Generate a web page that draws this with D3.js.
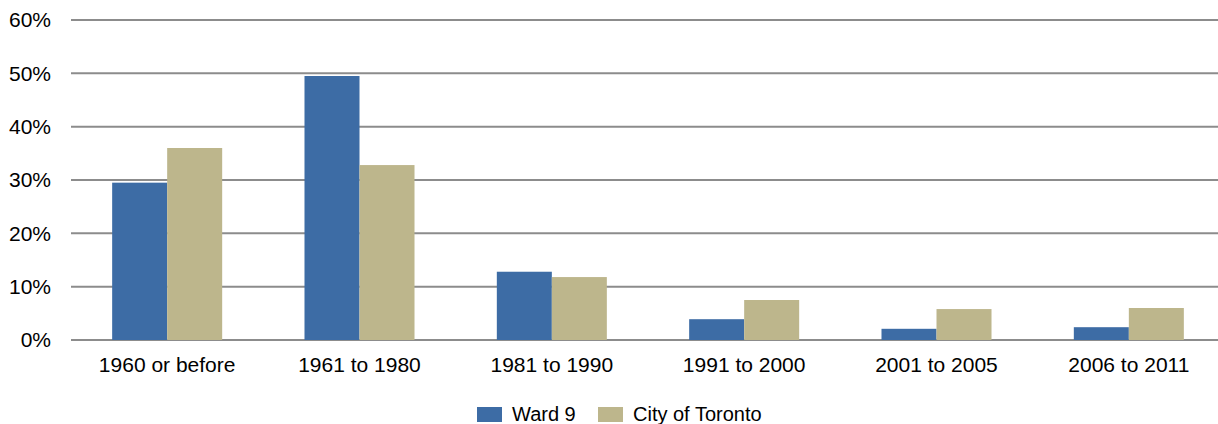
<!DOCTYPE html>
<html>
<head>
<meta charset="utf-8">
<script src="https://cdn.jsdelivr.net/npm/d3@7"></script>
<style>
  html, body { margin: 0; padding: 0; background: #fff; overflow: hidden; }
  svg { display: block; }
</style>
</head>
<body>
<div id="chart"></div>
<script>
(function () {
"use strict";

// Period of construction, share of dwellings
var categories = ["1960 or before", "1961 to 1980", "1981 to 1990",
                  "1991 to 2000", "2001 to 2005", "2006 to 2011"];
var seriesNames = ["Ward 9", "City of Toronto"];
var ward9 = [29.5, 49.5, 12.8, 3.9, 2.1, 2.4];
var toronto = [36.0, 32.8, 11.8, 7.5, 5.8, 6.0];
var yTicks = [0, 10, 20, 30, 40, 50, 60];

var colors = ["#3d6ca5", "#bdb68c"];

var fullWidth = 1218,
    fullHeight = 424;

// plot area runs a little past the right edge of the picture
var margins = { left: 71, right: -7, top: 20, bottom: 84 };

var width = fullWidth - margins.left - margins.right,
    height = fullHeight - margins.top - margins.bottom;

var fontFamily = "'Liberation Sans', Arial, sans-serif";

var svg = d3.select("#chart").append("svg")
  .attr("width", fullWidth)
  .attr("height", fullHeight)
  .attr("viewBox", "0 0 " + fullWidth + " " + fullHeight);

var g = svg.append("g")
  .attr("transform", "translate(" + margins.left + "," + margins.top + ")");

var xScale = d3.scaleBand()
  .domain(categories)
  .range([0, width])
  .paddingInner(0.428)
  .paddingOuter(0.214);

var xSub = d3.scaleBand()
  .domain(seriesNames)
  .range([0, xScale.bandwidth()]);

var yScale = d3.scaleLinear()
  .domain([0, 60])
  .range([height, 0]);

// gridlines
g.append("g")
  .selectAll("line")
  .data(yTicks)
  .enter()
  .append("line")
    .attr("x1", 0)
    .attr("x2", width)
    .attr("y1", function(d) { return yScale(d); })
    .attr("y2", function(d) { return yScale(d); })
    .style("stroke", "#8c8c8c")
    .style("stroke-width", 2);

// y labels
g.append("g")
  .selectAll("text")
  .data(yTicks)
  .enter()
  .append("text")
    .attr("x", -20)
    .attr("y", function(d) { return yScale(d); })
    .attr("dy", "0.35em")
    .style("text-anchor", "end")
    .style("font-family", fontFamily)
    .style("font-size", "21px")
    .style("fill", "#000")
    .text(function(d) { return d + "%"; });

// bars
var rows = categories.map(function(c, i) {
  return { cat: c, values: [ward9[i], toronto[i]] };
});

var groups = g.append("g")
  .selectAll("g")
  .data(rows)
  .enter()
  .append("g")
    .attr("transform", function(d) { return "translate(" + xScale(d.cat) + ",0)"; });

groups.selectAll("rect")
  .data(function(d) {
    return d.values.map(function(v, j) { return { name: seriesNames[j], v: v, j: j }; });
  })
  .enter()
  .append("rect")
    .attr("x", function(d) { return xSub(d.name); })
    .attr("width", xSub.bandwidth())
    .attr("y", function(d) { return yScale(d.v); })
    .attr("height", function(d) { return height - yScale(d.v); })
    .style("fill", function(d) { return colors[d.j]; });

// x labels
g.append("g")
  .selectAll("text")
  .data(categories)
  .enter()
  .append("text")
    .attr("x", function(d) { return xScale(d) + xScale.bandwidth() / 2; })
    .attr("y", height + 32)
    .style("text-anchor", "middle")
    .style("font-family", fontFamily)
    .style("font-size", "21px")
    .style("fill", "#000")
    .text(function(d) { return d; });

// legend
var legend = svg.append("g")
  .attr("transform", "translate(477,407)");

var legendX = [0, 121];
seriesNames.forEach(function(name, j) {
  var item = legend.append("g")
    .attr("transform", "translate(" + legendX[j] + ",0)");
  item.append("rect")
    .attr("width", 25)
    .attr("height", 15)
    .style("fill", colors[j]);
  item.append("text")
    .attr("x", 35)
    .attr("y", 14)
    .style("font-family", fontFamily)
    .style("font-size", "20px")
    .style("fill", "#000")
    .text(name);
});

})();
</script>
</body>
</html>
